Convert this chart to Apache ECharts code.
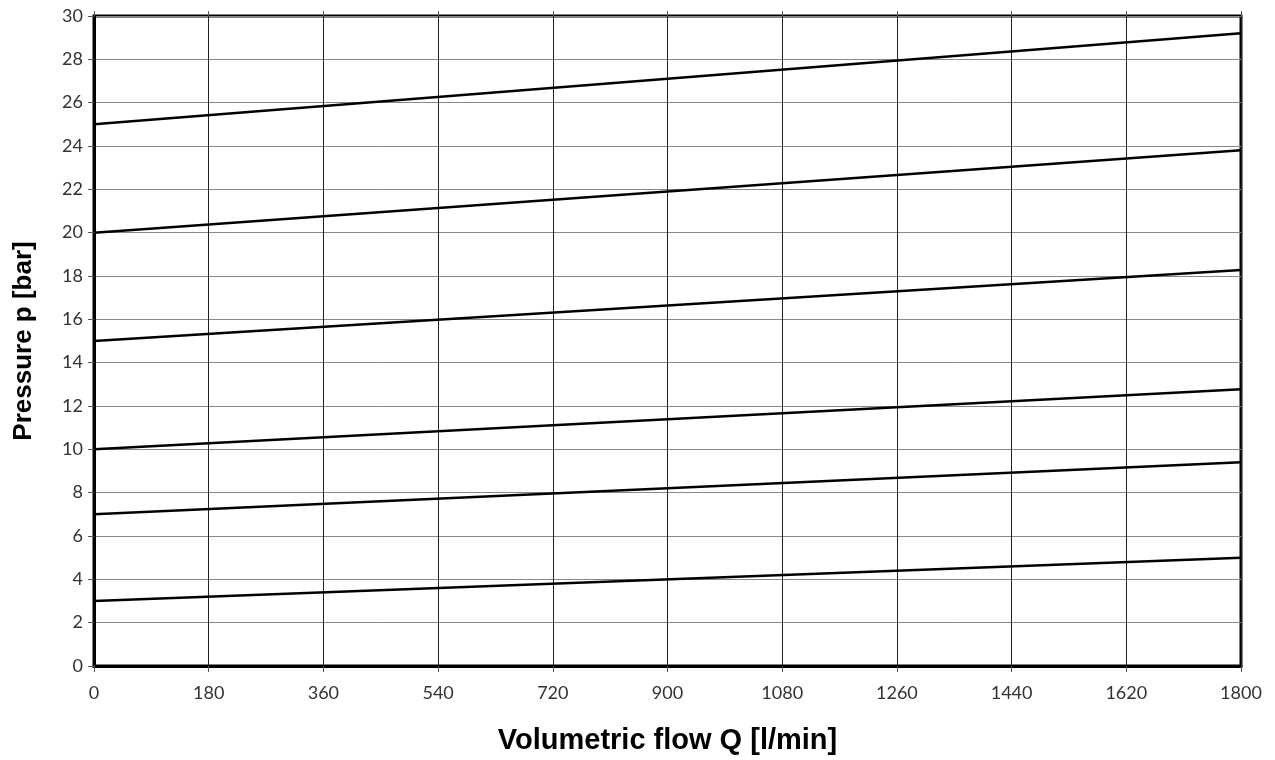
<!DOCTYPE html>
<html><head><meta charset="utf-8">
<script src="https://cdn.jsdelivr.net/npm/echarts@6/dist/echarts.min.js"></script>
<style>html,body{margin:0;padding:0;background:#fff}#c{width:1275px;height:760px}</style>
</head><body><div id="c"></div>
<script>
const flowEnds = [0, 1800];
const line1 = [3, 5.0];
const line2 = [7, 9.4];
const line3 = [10, 12.77];
const line4 = [15, 18.28];
const line5 = [20, 23.8];
const line6 = [25, 29.2];
const allLines = [line1, line2, line3, line4, line5, line6];

const chart = echarts.init(document.getElementById('c'), null, {renderer: 'canvas'});
const tickFont = {fontFamily: 'Lato', fontSize: 18, color: '#333'};
chart.setOption({
  animation: false,
  backgroundColor: '#fff',
  grid: {left: 94, right: 34, top: 16, bottom: 94, show: true, borderColor: '#000', borderWidth: 3},
  xAxis: [{
    type: 'value', min: 0, max: 1800, interval: 180,
    name: 'Volumetric flow Q [l/min]', nameLocation: 'middle', nameGap: 60,
    nameTextStyle: {fontFamily: 'Liberation Sans', fontWeight: 'bold', fontSize: 29, color: '#000'},
    axisLine: {show: true, lineStyle: {color: '#000', width: 3}},
    axisTick: {show: true, length: 6, lineStyle: {color: '#555', width: 1}},
    axisLabel: Object.assign({margin: 18, formatter: v => String(v)}, tickFont),
    splitLine: {show: true, lineStyle: {color: '#222', width: 1}}
  }, {
    type: 'value', min: 0, max: 1800, interval: 180, position: 'top',
    axisLine: {show: false}, axisTick: {show: true, length: 5, lineStyle: {color: '#555'}},
    axisLabel: {show: false}, splitLine: {show: false}
  }],
  yAxis: {
    type: 'value', min: 0, max: 30, interval: 2,
    name: 'Pressure p [bar]', nameLocation: 'middle', nameGap: 57,
    nameTextStyle: {fontFamily: 'Liberation Sans', fontWeight: 'bold', fontSize: 26, color: '#000'},
    axisLine: {show: true, lineStyle: {color: '#000', width: 3}},
    axisTick: {show: true, length: 6, lineStyle: {color: '#555', width: 1}},
    axisLabel: Object.assign({margin: 11}, tickFont),
    splitLine: {show: true, lineStyle: {color: '#888', width: 1}}
  },
  series: allLines.map(l => ({
    type: 'line', xAxisIndex: 0, showSymbol: false, silent: true,
    data: flowEnds.map((x, i) => [x, l[i]]),
    lineStyle: {color: '#000', width: 2.5}
  }))
});
</script></body></html>
